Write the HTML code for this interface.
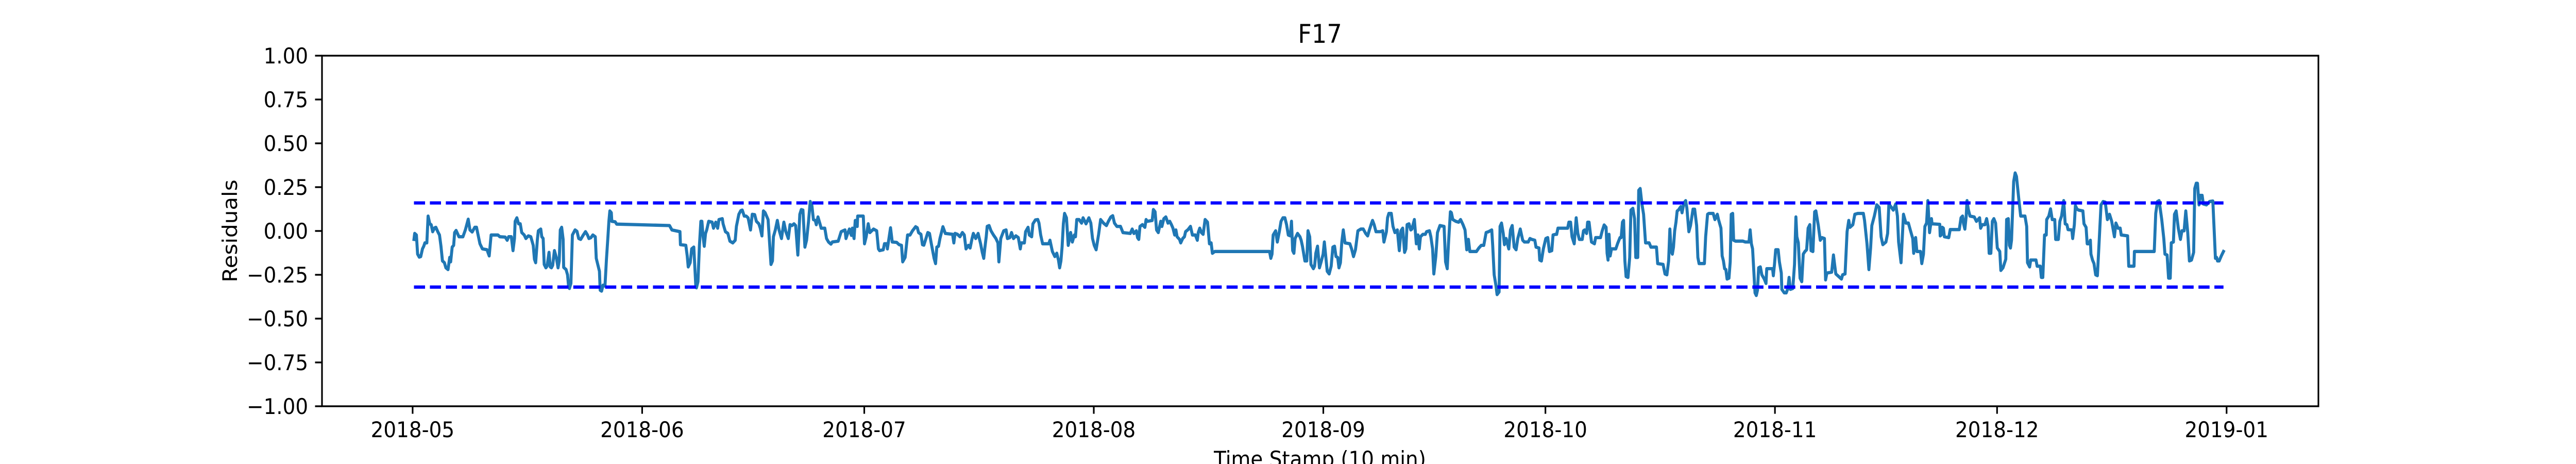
<!DOCTYPE html>
<html><head><meta charset="utf-8"><style>
html,body{margin:0;padding:0;background:#fff;width:100%;height:100%;overflow:hidden;}
svg{display:block;overflow:hidden;width:100vw;height:100vh;}
text{font-family:"DejaVu Sans","Liberation Sans",sans-serif;fill:#000;}
</style></head>
<body>
<svg id="chart" viewBox="0 0 5400 900" preserveAspectRatio="none" xmlns="http://www.w3.org/2000/svg">
<rect x="0" y="0" width="5400" height="900" fill="#fff"/>
<text x="2767" y="83" font-size="50" text-anchor="middle">F17</text>
<text x="0" y="0" font-size="42" text-anchor="middle" transform="translate(497,448) rotate(-90)">Residuals</text>
<text x="2767" y="905" font-size="42" text-anchor="middle">Time Stamp (10 min)</text>
<g id="plot"></g>
</svg>
<script>
// days since 2018-05-01
const days = [0.18,0.28,0.51,0.67,0.90,1.10,1.33,1.50,1.66,1.92,2.09,2.32,2.51,2.71,2.97,3.14,3.40,3.63,3.83,4.03,4.29,4.49,4.78,5.01,5.14,5.34,5.54,5.67,5.87,6.26,6.79,7.12,7.51,7.74,8.04,8.40,8.63,8.89,9.09,9.42,10.04,10.34,10.60,10.86,11.52,11.78,12.51,12.77,12.97,13.33,13.56,13.76,13.85,14.08,14.31,14.54,14.74,15.07,15.30,15.63,15.96,16.29,16.45,16.62,16.85,16.98,17.31,17.44,17.63,17.77,18.00,18.16,18.42,18.59,18.75,18.92,19.15,19.41,19.64,19.80,19.94,20.13,20.33,20.40,20.72,20.92,21.05,21.18,21.38,21.58,21.94,22.20,22.43,22.70,23.02,23.35,23.62,23.81,24.08,24.34,24.67,24.80,25.23,25.33,25.52,25.72,25.98,26.18,26.38,26.51,26.64,26.84,26.90,27.36,27.56,34.70,35.02,36.11,36.17,36.90,37.09,37.22,37.49,37.69,37.98,38.24,38.34,38.54,38.74,38.93,39.07,39.23,39.39,39.56,39.72,39.99,40.45,40.64,40.94,41.20,41.37,41.83,41.93,42.25,42.58,42.85,43.24,43.57,43.73,44.06,44.32,44.52,44.79,45.05,45.31,45.64,45.87,46.20,46.43,46.76,46.95,47.18,47.38,47.61,48.01,48.40,48.60,48.73,48.99,49.26,49.49,49.82,50.14,50.41,
50.74,50.97,51.24,51.50,51.73,52.03,52.29,52.49,52.72,52.98,53.21,53.47,53.70,53.93,54.13,54.39,54.52,54.75,55.02,55.18,55.67,55.90,56.17,56.50,56.69,57.48,57.88,58.14,58.40,58.53,58.80,58.99,59.26,59.39,59.62,59.78,60.05,60.11,60.87,61.03,61.26,61.53,61.76,62.25,62.68,62.91,63.07,63.56,63.73,64.06,64.12,64.55,64.78,65.37,65.70,66.03,66.19,66.52,66.85,67.18,67.51,67.94,68.17,68.33,68.66,68.86,69.05,69.58,69.81,70.04,70.43,70.63,70.80,71.03,71.22,71.62,71.95,72.93,73.10,73.26,73.59,73.92,74.25,74.51,74.74,75.07,75.30,75.56,75.73,76.05,76.38,76.71,76.94,77.14,77.27,77.47,77.60,77.86,78.12,78.45,78.78,79.05,79.18,79.44,79.83,80.16,80.33,80.66,80.89,81.15,81.48,81.81,82.07,82.20,82.63,82.79,83.12,83.29,83.61,83.78,84.11,84.44,84.60,84.83,85.09,85.92,86.08,86.41,86.74,87.00,87.23,87.39,87.56,87.72,87.89,88.05,88.31,88.55,88.87,89.10,89.37,89.53,89.70,90.02,90.35,90.55,90.95,91.34,91.60,91.83,92.06,92.32,92.65,92.92,93.31,93.71,93.97,94.30,94.56,94.79,95.12,95.61,95.94,96.93,97.19,97.42,97.75,97.91,98.08,98.24,98.57,98.90,99.06,99.23,99.89,100.05,100.28,100.48,100.71,100.87,101.04,101.20,101.46,101.73,102.02,
102.26,102.49,102.69,102.92,103.09,103.25,103.58,103.74,104.01,104.24,104.40,104.73,105.06,105.32,105.72,105.98,106.11,106.31,106.54,106.77,107.03,107.36,107.62,107.85,108.02,108.35,115.74,115.91,116.07,116.23,116.56,116.79,117.06,117.29,117.55,117.81,118.04,118.27,118.54,118.70,118.86,119.03,119.19,119.52,119.85,120.01,120.18,120.51,120.77,120.93,121.16,121.33,121.66,121.82,121.99,122.22,122.48,122.74,122.97,123.14,123.30,123.53,123.79,124.06,124.29,124.52,124.71,124.94,125.11,125.31,125.50,125.70,125.93,126.59,126.82,127.08,127.34,127.67,128.07,128.40,128.72,128.99,129.22,129.45,129.65,129.87,130.11,130.70,131.03,131.19,131.52,131.68,131.85,132.18,132.41,132.67,133.00,133.26,133.49,133.72,133.98,134.15,134.31,134.58,134.81,134.97,135.30,135.56,135.79,135.96,136.12,136.45,136.78,136.94,137.34,137.53,137.76,137.93,138.19,138.42,138.75,139.31,139.51,139.74,139.90,140.16,140.30,140.49,140.89,141.28,141.54,141.87,142.14,142.37,142.60,142.79,143.68,144.01,144.34,144.67,144.99,145.32,145.75,145.88,146.08,146.31,146.47,146.74,146.87,147.07,147.30,147.46,147.69,148.05,148.28,148.51,148.78,149.04,149.27,149.60,149.93,150.16,150.68,150.91,151.14,151.57,151.73,152.13,152.23,152.46,152.72,153.05,153.31,153.54,
153.86,154.03,154.36,154.52,154.69,156.00,156.17,156.40,156.59,156.89,157.15,157.38,157.58,157.97,158.14,158.30,158.56,158.70,158.89,159.06,159.22,159.62,159.78,160.44,160.67,160.93,161.19,161.33,161.46,161.59,161.75,161.92,162.51,162.74,163.07,163.23,163.40,163.56,163.73,163.89,164.15,164.38,164.55,164.81,165.04,165.20,165.47,165.60,165.80,166.03,166.26,166.52,167.01,167.24,168.00,168.16,168.89,169.15,169.41,169.64,169.81,169.97,170.14,170.30,170.46,170.63,170.79,170.96,171.29,171.45,171.71,171.94,172.11,172.37,172.60,172.93,173.16,173.42,173.59,173.75,174.47,174.64,174.90,175.07,175.66,175.89,176.22,176.38,176.71,176.87,177.04,177.20,177.37,177.53,177.79,177.96,178.09,178.29,178.42,178.68,179.67,180.00,180.49,180.65,180.82,180.98,181.15,181.31,181.48,181.64,181.80,182.03,182.23,182.56,182.79,182.89,183.68,183.78,183.94,184.10,184.43,184.60,184.86,184.93,185.26,185.52,185.75,185.91,186.08,186.41,186.64,186.83,186.96,187.16,187.39,187.62,187.82,188.05,188.28,188.48,188.71,188.87,189.13,189.36,189.53,189.86,190.12,190.35,190.68,190.84,191.01,191.66,191.90,192.09,192.22,192.98,193.14,193.47,193.74,193.97,194.13,194.52,194.79,195.18,195.94,196.10,196.43,196.69,196.92,197.09,197.42,197.75,198.08,198.34,198.57,198.99,199.22,199.39,199.65,199.98,200.31,200.54,200.70,201.03,201.36,201.69,202.02,202.28,202.61,202.74,203.00,203.17,203.66,203.83,204.06,204.25,204.48,204.65,204.88,205.14,
205.22,206.26,206.32,206.46,206.60,206.75,206.89,207.47,207.67,208.90,209.13,209.34,209.48,209.65,209.83,209.94,210.11,210.34,210.92,211.21,211.64,211.78,212.01,212.36,212.59,212.79,212.93,213.16,213.36,213.57,213.80,214.03,214.37,214.51,214.80,215.18,215.29,215.52,215.67,215.81,215.95,216.24,216.44,216.62,216.96,217.19,217.77,218.00,218.11,218.40,218.54,219.26,219.41,219.84,219.98,220.18,220.41,220.64,220.70,220.99,221.22,221.45,221.79,221.91,222.28,222.48,222.71,223.00,223.20,223.43,223.58,224.10,224.21,224.44,224.58,224.81,225.02,225.59,225.74,226.02,226.17,226.45,226.60,226.68,226.89,227.09,227.32,227.55,227.75,228.04,228.32,228.61,228.90,229.19,229.48,229.85,230.05,230.34,230.63,230.77,231.63,231.78,232.50,232.55,235.23,235.43,235.66,235.89,236.24,236.52,236.67,236.96,237.16,237.39,237.53,237.82,237.96,238.19,238.48,238.77,238.97,239.26,239.49,239.75,239.98,240.26,240.55,240.70,240.90,241.07,241.27,241.41,241.70,241.85,242.28,242.71,243.14,243.37,243.49,243.66,243.77,244.00,244.29,244.58];
const residuals = [-0.048,-0.014,-0.023,-0.132,-0.149,-0.146,-0.102,-0.087,-0.068,-0.068,0.085,0.041,0.036,-0.004,0.018,0.021,-0.004,-0.023,-0.087,-0.171,-0.181,-0.210,-0.220,-0.151,-0.176,-0.092,-0.082,-0.009,0.003,-0.033,-0.033,0.006,0.067,0.006,-0.006,0.021,0.021,-0.033,-0.073,-0.102,-0.107,-0.142,-0.023,-0.023,-0.023,-0.033,-0.035,-0.053,-0.033,-0.033,-0.112,-0.043,0.055,0.075,0.041,0.041,-0.009,-0.023,-0.043,-0.028,-0.033,-0.082,-0.161,-0.181,-0.048,0.001,0.011,-0.033,-0.043,-0.191,-0.210,-0.201,-0.122,-0.205,-0.210,-0.196,-0.112,-0.151,-0.210,-0.171,0.006,0.021,-0.048,-0.208,-0.220,-0.250,-0.309,-0.328,-0.299,-0.023,0.006,-0.002,-0.043,-0.048,-0.025,-0.004,-0.023,-0.043,-0.038,-0.023,-0.033,-0.156,-0.230,-0.338,-0.343,-0.309,-0.314,-0.161,-0.033,0.055,0.114,0.104,0.055,0.052,0.039,0.031,0.006,-0.004,-0.078,-0.082,-0.142,-0.205,-0.181,-0.102,-0.092,-0.309,-0.324,-0.289,-0.082,0.055,0.055,-0.033,-0.087,-0.014,0.006,0.055,0.050,0.016,0.050,0.016,0.065,0.070,0.041,-0.004,-0.014,-0.058,-0.068,-0.053,0.026,0.095,0.116,0.119,0.085,0.085,0.075,0.006,0.095,0.093,0.055,0.041,0.016,-0.028,0.114,0.104,0.065,-0.191,-0.171,-0.033,0.006,0.060,0.006,-0.043,0.050,-0.004,
-0.043,0.036,0.031,0.041,0.031,-0.137,0.095,0.122,0.119,-0.092,-0.053,0.055,0.168,0.144,0.065,0.060,0.036,0.080,0.041,0.016,0.016,-0.043,-0.063,-0.075,-0.063,-0.058,-0.004,0.001,0.006,-0.043,-0.009,0.011,-0.025,0.016,-0.043,0.060,0.026,0.085,0.085,-0.073,-0.033,0.041,-0.009,0.011,0.001,-0.102,-0.112,-0.107,-0.073,-0.073,-0.102,0.018,-0.063,-0.065,-0.078,-0.082,-0.176,-0.151,-0.023,-0.023,0.001,0.024,0.018,-0.009,-0.019,-0.078,-0.081,-0.009,-0.014,-0.068,-0.156,-0.186,-0.092,-0.087,-0.043,0.024,-0.014,-0.019,-0.068,-0.014,-0.019,-0.033,-0.009,-0.023,-0.102,-0.082,-0.097,-0.043,-0.014,-0.043,-0.014,-0.073,-0.122,-0.156,-0.102,-0.033,0.026,0.031,0.001,-0.023,-0.043,-0.068,-0.176,-0.043,0.001,0.006,-0.043,-0.038,-0.009,-0.043,-0.028,-0.038,-0.102,-0.068,-0.068,-0.004,0.021,-0.023,-0.033,0.041,0.063,0.065,0.045,-0.023,-0.073,-0.073,-0.053,-0.117,-0.146,-0.127,-0.166,-0.210,-0.171,-0.092,0.041,0.100,0.075,-0.082,-0.009,-0.063,-0.023,-0.033,0.065,0.065,0.045,0.075,0.041,0.075,0.045,-0.043,-0.082,-0.107,-0.019,0.065,0.045,0.031,0.055,0.080,0.087,0.045,0.026,0.026,-0.009,-0.014,0.011,-0.014,0.001,-0.038,-0.048,0.026,0.036,0.021,0.065,0.055,0.060,0.122,0.109,0.006,-0.009,0.021,0.055,0.026,0.070,0.080,0.045,
0.055,0.036,0.016,-0.023,0.006,-0.033,-0.048,-0.068,-0.043,-0.033,-0.004,0.008,0.026,-0.023,-0.023,-0.053,-0.009,0.016,-0.009,-0.019,0.065,0.050,-0.073,-0.068,-0.127,-0.117,-0.117,-0.156,-0.132,-0.023,0.001,-0.063,-0.004,0.055,0.075,0.075,0.036,-0.023,-0.028,0.055,-0.112,-0.127,-0.043,-0.014,-0.033,-0.053,-0.087,-0.171,-0.171,0.001,-0.033,-0.191,-0.215,-0.201,-0.127,-0.087,-0.210,-0.171,-0.132,-0.063,-0.132,-0.230,-0.245,-0.201,-0.092,-0.087,-0.146,-0.151,-0.210,-0.181,-0.063,0.006,-0.068,-0.073,-0.102,-0.146,-0.107,0.001,0.011,0.011,-0.014,-0.028,0.006,0.036,0.060,0.036,-0.004,-0.004,0.001,-0.063,-0.004,0.075,0.100,0.100,0.026,-0.009,0.006,-0.112,0.001,0.016,-0.122,-0.102,0.036,0.041,0.006,0.011,0.065,-0.073,-0.023,-0.102,-0.033,-0.019,-0.019,-0.004,0.001,-0.033,-0.102,-0.245,-0.146,-0.009,0.031,0.026,-0.176,-0.215,-0.078,0.109,0.104,0.065,0.055,0.050,0.065,0.036,0.006,-0.107,-0.048,-0.117,-0.117,-0.097,-0.082,-0.082,-0.009,-0.004,0.006,-0.082,-0.250,-0.309,-0.363,-0.348,0.026,0.045,-0.014,-0.078,-0.043,-0.102,0.006,0.031,-0.092,-0.107,-0.043,0.011,-0.053,-0.063,-0.063,-0.043,-0.048,-0.053,-0.092,-0.097,-0.166,-0.171,-0.102,-0.043,-0.038,-0.117,
-0.112,-0.023,-0.019,-0.019,0.016,0.016,0.050,0.050,-0.033,-0.073,0.075,-0.014,-0.048,-0.048,0.001,0.006,-0.014,0.050,0.050,-0.009,-0.063,-0.073,-0.038,-0.038,0.001,0.034,0.021,-0.127,-0.166,-0.019,-0.142,-0.102,-0.102,-0.073,-0.038,-0.038,0.050,0.060,-0.171,-0.260,-0.265,-0.151,0.119,0.129,0.070,-0.151,-0.151,0.232,0.242,0.154,0.095,-0.068,-0.068,-0.092,-0.092,-0.186,-0.191,-0.245,-0.250,-0.171,0.011,-0.112,-0.132,-0.092,0.001,0.050,0.114,0.119,0.139,0.104,0.159,0.173,0.129,-0.004,0.031,0.124,0.124,0.031,-0.151,-0.186,-0.186,-0.033,0.095,0.100,0.100,0.065,0.095,0.065,0.016,-0.142,-0.171,-0.215,-0.220,-0.274,-0.269,-0.176,0.095,0.100,-0.053,-0.058,-0.058,-0.063,-0.063,0.006,-0.073,-0.102,-0.230,-0.353,-0.368,-0.338,-0.210,-0.205,-0.250,-0.274,-0.299,-0.215,-0.215,-0.255,-0.191,-0.107,-0.107,-0.176,-0.240,-0.333,-0.353,-0.353,-0.328,-0.265,-0.333,-0.328,-0.191,0.080,-0.033,-0.068,-0.269,-0.289,-0.132,-0.117,-0.107,0.016,0.036,-0.112,-0.117,0.109,0.114,0.031,-0.053,-0.038,-0.043,-0.279,-0.240,-0.235,-0.137,-0.201,-0.245,-0.274,-0.250,-0.245,-0.004,0.060,0.021,0.036,0.095,0.100,0.100,0.060,-0.073,-0.220,-0.097,0.031,0.085,0.149,0.134,-0.033,-0.078,-0.063,-0.014,0.154,0.139,0.119,0.154,0.085,-0.063,-0.181,0.095,0.045,0.045,0.006,-0.043,-0.127,-0.038,-0.117,-0.117,-0.186,-0.132,0.026,0.045,0.173,-0.009,0.070,
0.041,0.038,-0.028,-0.023,0.021,0.016,-0.033,-0.038,0.008,0.008,0.075,0.085,0.041,0.011,0.085,0.173,0.124,0.085,0.080,0.055,0.075,0.016,0.036,0.036,0.070,0.026,-0.127,-0.127,0.055,0.070,0.045,-0.097,-0.117,-0.225,-0.210,-0.161,0.065,0.070,-0.082,-0.097,-0.053,0.282,0.331,0.311,0.173,0.085,0.085,0.026,-0.181,-0.205,-0.166,-0.166,-0.201,-0.201,-0.265,-0.265,-0.023,-0.023,0.065,0.085,0.126,0.065,0.065,-0.048,-0.048,0.055,0.085,0.173,0.041,0.036,0.008,0.006,-0.043,0.036,0.144,0.124,0.119,0.114,0.041,0.021,-0.073,-0.073,-0.053,-0.132,-0.166,-0.186,-0.250,-0.255,-0.092,0.149,0.168,0.164,0.065,0.095,0.055,-0.033,0.045,0.016,0.016,-0.023,-0.028,-0.201,-0.201,-0.117,-0.117,0.100,0.168,0.173,0.065,-0.043,-0.132,-0.137,-0.269,-0.269,-0.068,-0.063,0.095,0.114,0.016,-0.048,0.001,0.001,0.114,-0.009,-0.171,-0.166,-0.122,0.242,0.272,0.272,0.149,0.203,0.203,0.154,0.149,0.168,0.171,-0.038,-0.156,-0.151,-0.171,-0.171,-0.142,-0.117];
const upperLimit = 0.16;
const lowerLimit = -0.32;
const yTickValues = [-1,-0.75,-0.5,-0.25,0,0.25,0.5,0.75,1];
const yTickLabels = ["\u22121.00","\u22120.75","\u22120.50","\u22120.25","0.00","0.25","0.50","0.75","1.00"];
const xTickDays = [0,31,61,92,123,153,184,214,245];
const xTickLabels = ["2018-05","2018-06","2018-07","2018-08","2018-09","2018-10","2018-11","2018-12","2019-01"];

const NS = "http://www.w3.org/2000/svg";
const L = 675, R = 4860, T = 108, B = 788;
const dMin = -12.24, dMax = 257.4;
function xs(d){ return L + (d - dMin) / (dMax - dMin) * (R - L); }
function ys(v){ return B - (v + 1) / 2 * (B - T); }
const plot = document.getElementById('plot');
function mk(tag, attrs){ const e = document.createElementNS(NS, tag); for (const k in attrs) e.setAttribute(k, attrs[k]); plot.appendChild(e); return e; }

let dStr = '';
for (let i = 0; i < days.length; i++) dStr += (i ? 'L' : 'M') + xs(days[i]).toFixed(1) + ',' + ys(residuals[i]).toFixed(1);
const line = mk('path', {d: dStr, fill: 'none', stroke: '#1f77b4', 'stroke-width': 6.3, 'stroke-linejoin': 'round', 'stroke-linecap': 'square'});



const x0 = xs(days[0]), x1 = xs(days[days.length - 1]);
const up = mk('line', {x1: x0, x2: x1, y1: ys(upperLimit), y2: ys(upperLimit), stroke: '#0000ff', 'stroke-width': 6.3, 'stroke-dasharray': '23.3,10.1'});


const lo = mk('line', {x1: x0, x2: x1, y1: ys(lowerLimit), y2: ys(lowerLimit), stroke: '#0000ff', 'stroke-width': 6.3, 'stroke-dasharray': '23.3,10.1'});



const frame = mk('rect', {x: L, y: T, width: R - L, height: B - T, fill: 'none', stroke: '#000', 'stroke-width': 3.4});



yTickValues.forEach((v, i) => {
  const y = ys(v);
  const t = mk('line', {x1: L - 14.6, x2: L, y1: y, y2: y, stroke: '#000', 'stroke-width': 3.4});
  
  
  const lab = mk('text', {x: L - 29, y: y + 15, 'font-size': 42, 'text-anchor': 'end'});
  lab.textContent = yTickLabels[i];
  
  
});
xTickDays.forEach((d, i) => {
  const x = xs(d);
  const t = mk('line', {x1: x, x2: x, y1: B, y2: B + 14.6, stroke: '#000', 'stroke-width': 3.4});
  
  
  const lab = mk('text', {x: x, y: 848, 'font-size': 42, 'text-anchor': 'middle'});
  lab.textContent = xTickLabels[i];
  
  
});
</script>
</body></html>
